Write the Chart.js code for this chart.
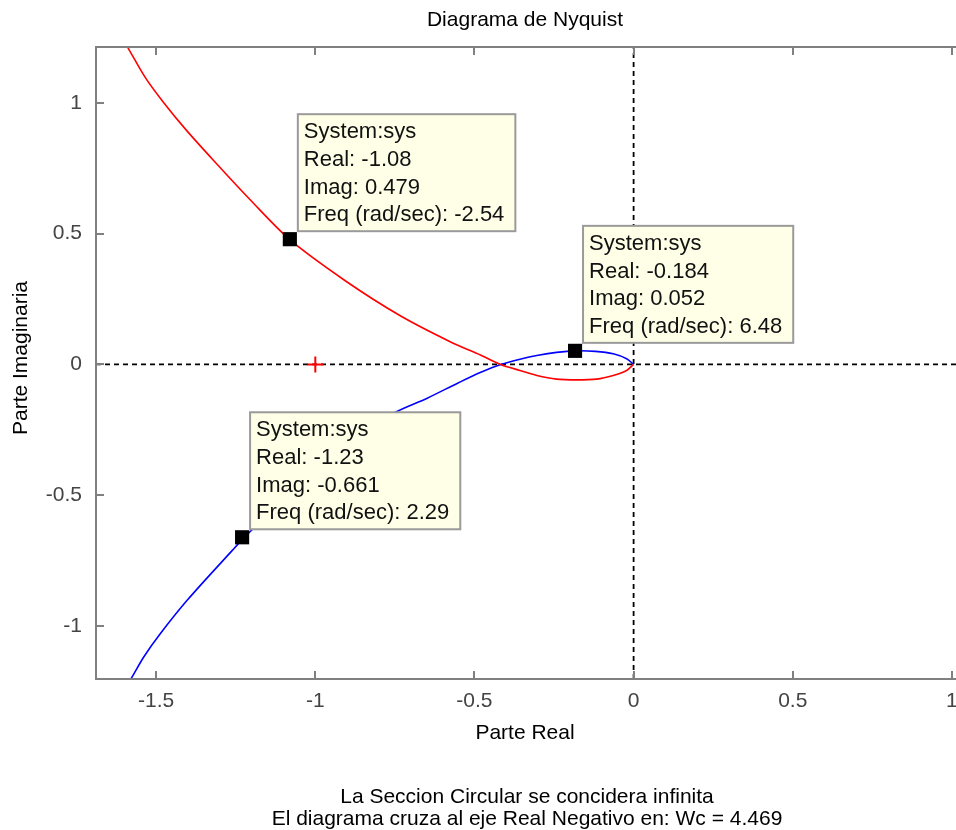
<!DOCTYPE html>
<html>
<head>
<meta charset="utf-8">
<title>Diagrama de Nyquist</title>
<script src="https://cdn.jsdelivr.net/npm/chart.js@4.4.0/dist/chart.umd.min.js"></script>
<style>
  html, body { margin: 0; padding: 0; background: #fff; overflow: hidden; }
  #wrap { width: 956px; height: 830px; overflow: hidden; }
</style>
</head>
<body>
<div id="wrap"><canvas id="nyquist" width="967" height="830"></canvas></div>
<script>
// negative frequencies (red branch)
const redX = [-1.613, -1.588, -1.535, -1.478, -1.406, -1.321, -1.204, -1.079, -0.906, -0.733, -0.575, -0.481, -0.418, -0.357, -0.304, -0.242, -0.18, -0.116, -0.064, -0.022, 0];
const redY = [1.262, 1.210, 1.099, 1.004, 0.897, 0.782, 0.629, 0.476, 0.320, 0.186, 0.086, 0.036, 0, -0.023, -0.042, -0.056, -0.059, -0.056, -0.042, -0.023, 0];
// positive frequencies (blue branch)
const blueX = [-1.61, -1.580, -1.538, -1.486, -1.402, -1.260, -1.228, -1.047, -0.890, -0.753, -0.65, -0.55, -0.48, -0.417, -0.357, -0.30, -0.242, -0.184, -0.12, -0.064, -0.022, 0];
const blueY = [-1.26, -1.204, -1.117, -1.028, -0.901, -0.710, -0.668, -0.449, -0.300, -0.186, -0.13, -0.07, -0.03, 0, 0.02, 0.035, 0.046, 0.052, 0.050, 0.041, 0.022, 0];

// data tips
const tipReal = [-1.08, -0.184, -1.23];
const tipImag = [0.479, 0.052, -0.661];
const tipFreq = [-2.54, 6.48, 2.29];

// critical point -1 + j0
const critX = [-1];
const critY = [0];

const xTicks = [-1.5, -1, -0.5, 0, 0.5, 1];
const yTicks = [-1, -0.5, 0, 0.5, 1];
const xLimits = [-1.689, 1.016];
const yLimits = [-1.203, 1.214];

const wc = 4.469;
const notes = [
  "La Seccion Circular se concidera infinita",
  "El diagrama cruza al eje Real Negativo en: Wc = " + wc,
];

const FONT = '"Liberation Sans", Arial, sans-serif';
const pts = (xs, ys) => xs.map((v, i) => ({ x: v, y: ys[i] }));

// extra drawing: axes box, inward ticks, data tip boxes, texts
const decorations = {
  id: "decorations",
  afterDraw(chart) {
    const { ctx, chartArea: a, scales } = chart;
    const sx = scales.x, sy = scales.y;
    ctx.save();

    // axes box (right side is off the picture)
    ctx.strokeStyle = "#808080";
    ctx.lineWidth = 2;
    ctx.beginPath();
    ctx.moveTo(a.right + 4, a.top);
    ctx.lineTo(a.left, a.top);
    ctx.lineTo(a.left, a.bottom);
    ctx.lineTo(a.right + 4, a.bottom);
    ctx.stroke();

    // ticks pointing inwards
    ctx.beginPath();
    xTicks.forEach((v) => {
      const px = Math.round(sx.getPixelForValue(v));
      ctx.moveTo(px, a.bottom); ctx.lineTo(px, a.bottom - 8);
      ctx.moveTo(px, a.top); ctx.lineTo(px, a.top + 8);
    });
    yTicks.forEach((v) => {
      const py = Math.round(sy.getPixelForValue(v));
      ctx.moveTo(a.left, py); ctx.lineTo(a.left + 8, py);
    });
    ctx.stroke();

    // data tips
    ctx.font = "22px " + FONT;
    ctx.textBaseline = "alphabetic";
    ctx.textAlign = "left";
    tipReal.forEach((re, i) => {
      const lines = [
        "System:sys",
        "Real: " + re,
        "Imag: " + tipImag[i],
        "Freq (rad/sec): " + tipFreq[i],
      ];
      const px = sx.getPixelForValue(re);
      const py = sy.getPixelForValue(tipImag[i]);
      const w = Math.max(...lines.map((t) => ctx.measureText(t).width)) + 17;
      const h = 117;
      const bx = px + 8, by = py - 8 - h;
      ctx.fillStyle = "#ffffe8";
      ctx.fillRect(bx, by, w, h);
      ctx.strokeStyle = "#9a9a9a";
      ctx.lineWidth = 2;
      ctx.strokeRect(bx, by, w, h);
      ctx.fillStyle = "#111";
      lines.forEach((t, k) => ctx.fillText(t, bx + 6, by + 24 + k * 27.7));
    });

    // title, axis labels, notes
    ctx.fillStyle = "#000";
    ctx.textAlign = "center";
    ctx.textBaseline = "middle";
    ctx.font = "21px " + FONT;
    const cx = 525;
    ctx.fillText("Diagrama de Nyquist", cx, 20);
    ctx.fillText("Parte Real", cx, 733);
    notes.forEach((t, k) => ctx.fillText(t, cx + 2, 797 + k * 22));
    ctx.save();
    ctx.translate(21, 358);
    ctx.rotate(-Math.PI / 2);
    ctx.fillText("Parte Imaginaria", 0, 0);
    ctx.restore();

    ctx.restore();
  },
};

new Chart(document.getElementById("nyquist"), {
  type: "scatter",
  data: {
    datasets: [
      {
        label: "data tips",
        data: pts(tipReal, tipImag),
        pointStyle: "rect",
        pointRadius: 10,
        backgroundColor: "#000",
        borderColor: "#000",
        borderWidth: 0,
        order: 0,
      },
      {
        label: "-1",
        data: pts(critX, critY),
        pointStyle: "cross",
        pointRadius: 8,
        borderColor: "#ff0000",
        borderWidth: 2,
        order: 1,
      },
      {
        label: "w < 0",
        data: pts(redX, redY),
        showLine: true,
        tension: 0.3,
        borderColor: "#ff0000",
        borderWidth: 1.6,
        pointRadius: 0,
        order: 2,
      },
      {
        label: "w > 0",
        data: pts(blueX, blueY),
        showLine: true,
        tension: 0.3,
        borderColor: "#0000ff",
        borderWidth: 1.6,
        pointRadius: 0,
        order: 3,
      },
      {
        label: "real axis",
        data: pts(xLimits, [0, 0]),
        showLine: true,
        borderColor: "#000",
        borderWidth: 1.8,
        borderDash: [5, 4],
        pointRadius: 0,
        order: 4,
      },
      {
        label: "imag axis",
        data: pts([0, 0], yLimits),
        showLine: true,
        borderColor: "#000",
        borderWidth: 1.8,
        borderDash: [5, 4],
        pointRadius: 0,
        order: 5,
      },
    ],
  },
  options: {
    responsive: false,
    animation: false,
    layout: { padding: { top: 47, left: 0, right: 0, bottom: 0 } },
    scales: {
      x: {
        type: "linear",
        min: xLimits[0],
        max: xLimits[1],
        grid: { display: false, drawTicks: false },
        border: { display: false },
        afterBuildTicks: (s) => { s.ticks = xTicks.map((v) => ({ value: v })); },
        afterFit: (s) => { s.height = 151; s.paddingLeft = 0; s.paddingRight = 0; },
        ticks: {
          padding: 10,
          color: "#444",
          maxRotation: 0,
          autoSkip: false,
          font: { family: FONT, size: 21 },
          callback: (v) => String(v),
        },
      },
      y: {
        type: "linear",
        min: yLimits[0],
        max: yLimits[1],
        grid: { display: false, drawTicks: false },
        border: { display: false },
        afterBuildTicks: (s) => { s.ticks = yTicks.map((v) => ({ value: v })); },
        afterFit: (s) => { s.width = 96; s.paddingTop = 0; s.paddingBottom = 0; },
        ticks: {
          padding: 14,
          color: "#444",
          autoSkip: false,
          font: { family: FONT, size: 21 },
          callback: (v) => String(v),
        },
      },
    },
    plugins: {
      legend: { display: false },
      title: { display: false },
      tooltip: { enabled: false },
    },
  },
  plugins: [decorations],
});
</script>
</body>
</html>
